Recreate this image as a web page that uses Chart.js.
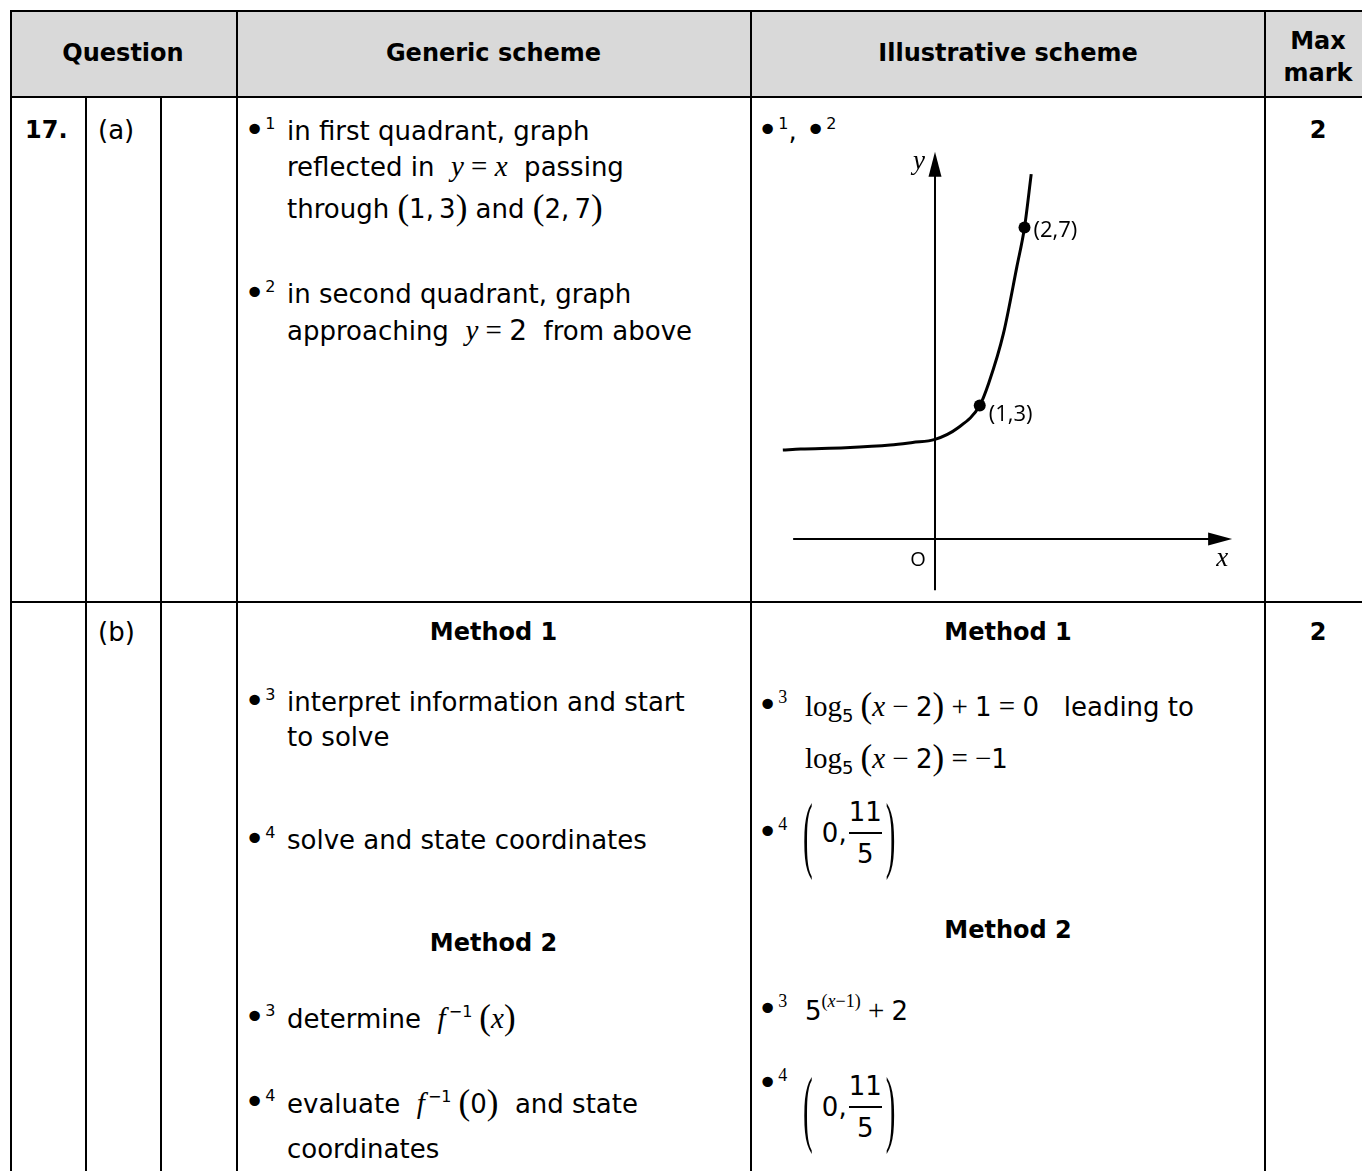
<!DOCTYPE html>
<html><head><meta charset="utf-8">
<script src="https://cdn.jsdelivr.net/npm/chart.js@4.4.0/dist/chart.umd.min.js"></script>
<style>
html,body{margin:0;padding:0;background:#fff;width:1362px;height:1171px;overflow:hidden;}
#page{position:relative;width:1362px;height:1171px;}
.ln{position:absolute;background:#000;}
.t{position:absolute;white-space:nowrap;font-family:'DejaVu Sans',sans-serif;font-size:26px;line-height:32px;height:32px;color:#000;}
.b{font-weight:bold;font-size:24px;}
.c{text-align:center;}
.m{font-family:'Liberation Serif',serif;font-style:italic;font-size:29px;}
.r{font-family:'Liberation Serif',serif;font-size:29px;}
.p{font-family:'Liberation Serif',serif;font-size:35px;line-height:0;position:relative;top:1px;}
.bu{font-size:36px;line-height:0;position:relative;top:2px;}
.sp{font-family:'DejaVu Sans',sans-serif;font-size:16px;position:relative;top:-11px;line-height:0;}
.sps{font-family:'Liberation Serif',serif;font-size:18px;position:relative;top:-12px;line-height:0;}
.sb{font-size:18px;position:relative;top:6px;line-height:0;}
.fx{display:flex;align-items:center;height:84px;line-height:30px;}
.fr{display:inline-flex;flex-direction:column;align-items:center;margin:0 1px 0 2px;}
.fr .bar{width:100%;height:2px;background:#000;margin:5px 0 5px 0;}
.bp{font-family:'Liberation Serif',serif;font-size:29px;display:inline-block;transform:scaleY(2.9);margin:0 4px 0 0;}
.bp.rt{margin:0 0 0 3px;}
</style></head>
<body><div id="page">
<!-- header background -->
<div style="position:absolute;left:11px;top:11px;width:1351px;height:85px;background:#d9d9d9"></div>
<!-- horizontal lines -->
<div class="ln" style="left:10px;top:10px;width:1352px;height:2px"></div>
<div class="ln" style="left:10px;top:96px;width:1352px;height:2px"></div>
<div class="ln" style="left:10px;top:601px;width:1352px;height:2px"></div>
<!-- vertical lines -->
<div class="ln" style="left:10px;top:10px;width:2px;height:1161px"></div>
<div class="ln" style="left:85px;top:96px;width:2px;height:1075px"></div>
<div class="ln" style="left:160px;top:96px;width:2px;height:1075px"></div>
<div class="ln" style="left:236px;top:10px;width:2px;height:1161px"></div>
<div class="ln" style="left:750px;top:10px;width:2px;height:1161px"></div>
<div class="ln" style="left:1264px;top:10px;width:2px;height:1161px"></div>

<!-- header text -->
<div class="t b c" style="left:10px;width:226px;top:37px">Question</div>
<div class="t b c" style="left:237px;width:513px;top:37px">Generic scheme</div>
<div class="t b c" style="left:752px;width:512px;top:37px">Illustrative scheme</div>
<div class="t b c" style="left:1266px;width:104px;top:25px">Max</div>
<div class="t b c" style="left:1266px;width:104px;top:57px">mark</div>

<!-- row (a) -->
<div class="t b" style="left:25px;top:114px">17.</div>
<div class="t" style="left:98px;top:114px">(a)</div>
<div class="t b c" style="left:1266px;width:104px;top:114px">2</div>

<div class="t" style="left:244px;top:115px"><span class="bu">•</span><span class="sp">1</span></div>
<div class="t" style="left:287px;top:115px">in first quadrant, graph</div>
<div class="t" style="left:287px;top:150px">reflected in&nbsp; <span class="m">y</span><span class="r"> = </span><span class="m">x</span>&nbsp; passing</div>
<div class="t" style="left:287px;top:193px">through&nbsp;<span class="p">(</span>1,&thinsp;3<span class="p">)</span>&nbsp;and&nbsp;<span class="p">(</span>2,&thinsp;7<span class="p">)</span></div>
<div class="t" style="left:244px;top:278px"><span class="bu">•</span><span class="sp">2</span></div>
<div class="t" style="left:287px;top:278px">in second quadrant, graph</div>
<div class="t" style="left:287px;top:314px">approaching&nbsp; <span class="m">y</span><span class="r"> = </span><span style="font-size:28px">2</span>&nbsp; from above</div>

<div class="t" style="left:757px;top:115px"><span class="bu">•</span><span class="sp">1</span>, <span class="bu">•</span><span class="sp">2</span></div>

<canvas id="sketch" width="480" height="460" style="position:absolute;left:770px;top:140px;width:480px;height:460px"></canvas>

<!-- row (b) -->
<div class="t" style="left:98px;top:616px">(b)</div>
<div class="t b c" style="left:1266px;width:104px;top:616px">2</div>

<div class="t b c" style="left:237px;width:513px;top:616px">Method 1</div>
<div class="t" style="left:244px;top:686px"><span class="bu">•</span><span class="sp">3</span></div>
<div class="t" style="left:287px;top:686px">interpret information and start</div>
<div class="t" style="left:287px;top:721px">to solve</div>
<div class="t" style="left:244px;top:824px"><span class="bu">•</span><span class="sp">4</span></div>
<div class="t" style="left:287px;top:824px">solve and state coordinates</div>
<div class="t b c" style="left:237px;width:513px;top:927px">Method 2</div>
<div class="t" style="left:244px;top:1002px"><span class="bu">•</span><span class="sp">3</span></div>
<div class="t" style="left:287px;top:1002px">determine&nbsp; <span class="m">f</span><span class="sp">&thinsp;−1</span><span class="p">&thinsp;(</span><span class="m">x</span><span class="p">)</span></div>
<div class="t" style="left:244px;top:1087px"><span class="bu">•</span><span class="sp">4</span></div>
<div class="t" style="left:287px;top:1087px">evaluate&nbsp; <span class="m">f</span><span class="sp">&thinsp;−1</span><span class="p">&thinsp;(</span>0<span class="p">)</span>&nbsp; and state</div>
<div class="t" style="left:287px;top:1133px">coordinates</div>

<div class="t b c" style="left:752px;width:512px;top:616px">Method 1</div>
<div class="t" style="left:757px;top:690px"><span class="bu">•</span><span class="sps">3</span></div>
<div class="t" style="left:805px;top:690px"><span class="r">log</span><span class="sb">5</span><span class="p">&thinsp;(</span><span class="m">x</span><span class="r"> − </span>2<span class="p">)</span><span class="r"> + </span>1<span class="r"> = </span>0&nbsp;&nbsp; leading to</div>
<div class="t" style="left:805px;top:742px"><span class="r">log</span><span class="sb">5</span><span class="p">&thinsp;(</span><span class="m">x</span><span class="r"> − </span>2<span class="p">)</span><span class="r"> = −</span>1</div>
<div class="t" style="left:757px;top:817px"><span class="bu">•</span><span class="sps">4</span></div>
<div class="t fx" style="left:803px;top:791px"><span class="bp">(</span><span>&thinsp;0,</span><span class="fr"><span>11</span><span class="bar"></span><span>5</span></span><span class="bp rt">)</span></div>
<div class="t b c" style="left:752px;width:512px;top:914px">Method 2</div>
<div class="t" style="left:757px;top:994px"><span class="bu">•</span><span class="sps">3</span></div>
<div class="t" style="left:805px;top:994px">5<span class="sps" style="top:-13px">(<i>x</i>−1)</span><span class="r"> + </span>2</div>
<div class="t" style="left:757px;top:1068px"><span class="bu">•</span><span class="sps">4</span></div>
<div class="t fx" style="left:803px;top:1065px"><span class="bp">(</span><span>&thinsp;0,</span><span class="fr"><span>11</span><span class="bar"></span><span>5</span></span><span class="bp rt">)</span></div>
</div>

<script>
// Curve of the sketch y = f^-1(x)
const curveX = [-3.4, -3, -2, -1, -0.5, 0, 0.5, 1, 1.2, 1.53, 1.83, 2, 2.15];
const curveY = [2.0, 2.02, 2.05, 2.11, 2.17, 2.24, 2.49, 3, 3.5, 4.62, 6.12, 7, 8.2];
// Marked points and their labels
const markX = [1, 2];
const markY = [3, 7];
const markLabels = ['(1,3)', '(2,7)'];
// Axis extents (in axis units) and axis labels
const xAxisRange = [-3.17, 6.64];
const yAxisRange = [-1.15, 8.7];
const axisLabels = ['O', 'x', 'y'];

const curveData = curveX.map((x, i) => ({x: x, y: curveY[i]}));
const markData = markX.map((x, i) => ({x: x, y: markY[i]}));

const sketchPlugin = {
  id: 'sketchAxes',
  beforeDatasetsDraw(chart) {
    const ctx = chart.ctx, sx = chart.scales.x, sy = chart.scales.y;
    const x0 = sx.getPixelForValue(0), y0 = sy.getPixelForValue(0);
    const xl = sx.getPixelForValue(xAxisRange[0]), xr = sx.getPixelForValue(xAxisRange[1]);
    const yb = sy.getPixelForValue(yAxisRange[0]), yt = sy.getPixelForValue(yAxisRange[1]);
    ctx.save();
    ctx.strokeStyle = '#000'; ctx.fillStyle = '#000'; ctx.lineWidth = 2;
    ctx.beginPath(); ctx.moveTo(xl, y0); ctx.lineTo(xr - 10, y0); ctx.stroke();
    ctx.beginPath(); ctx.moveTo(xr, y0); ctx.lineTo(xr - 24, y0 - 6.5); ctx.lineTo(xr - 24, y0 + 6.5); ctx.closePath(); ctx.fill();
    ctx.beginPath(); ctx.moveTo(x0, yb); ctx.lineTo(x0, yt + 10); ctx.stroke();
    ctx.beginPath(); ctx.moveTo(x0, yt); ctx.lineTo(x0 - 6.5, yt + 25); ctx.lineTo(x0 + 6.5, yt + 25); ctx.closePath(); ctx.fill();
    // axis labels
    ctx.textAlign = 'center'; ctx.textBaseline = 'middle';
    ctx.font = '20px "Open Sans", sans-serif';
    ctx.fillText(axisLabels[0], x0 - 17, y0 + 21);
    ctx.font = 'italic 27px "Liberation Serif", serif';
    ctx.fillText(axisLabels[1], xr - 10, y0 + 20);
    ctx.fillText(axisLabels[2], x0 - 16, yt + 10);
    ctx.restore();
  },
  afterDatasetsDraw(chart) {
    const ctx = chart.ctx, sx = chart.scales.x, sy = chart.scales.y;
    ctx.save();
    ctx.fillStyle = '#000';
    ctx.font = '22px "Open Sans", sans-serif';
    ctx.textAlign = 'left'; ctx.textBaseline = 'middle';
    const offs = [[9, 9], [9, 3]];
    markLabels.forEach((lab, i) => {
      const px = sx.getPixelForValue(markX[i]), py = sy.getPixelForValue(markY[i]);
      ctx.fillText(lab, px + offs[i][0], py + offs[i][1]);
    });
    ctx.restore();
  }
};

new Chart(document.getElementById('sketch'), {
  type: 'scatter',
  data: {
    datasets: [
      {data: curveData, showLine: true, borderColor: '#000', borderWidth: 3, pointRadius: 0,
       cubicInterpolationMode: 'monotone', clip: false, order: 2},
      {data: markData, pointRadius: 6, pointBackgroundColor: '#000', pointBorderWidth: 0, order: 1, clip: false}
    ]
  },
  options: {
    responsive: false, animation: false, events: [],
    layout: {padding: 0, autoPadding: false},
    plugins: {legend: {display: false}, tooltip: {enabled: false}},
    scales: {
      x: {type: 'linear', display: false, min: -3.687, max: 7.039},
      y: {type: 'linear', display: false, min: -1.371, max: 8.966}
    }
  },
  plugins: [sketchPlugin]
});
</script>
</body></html>
